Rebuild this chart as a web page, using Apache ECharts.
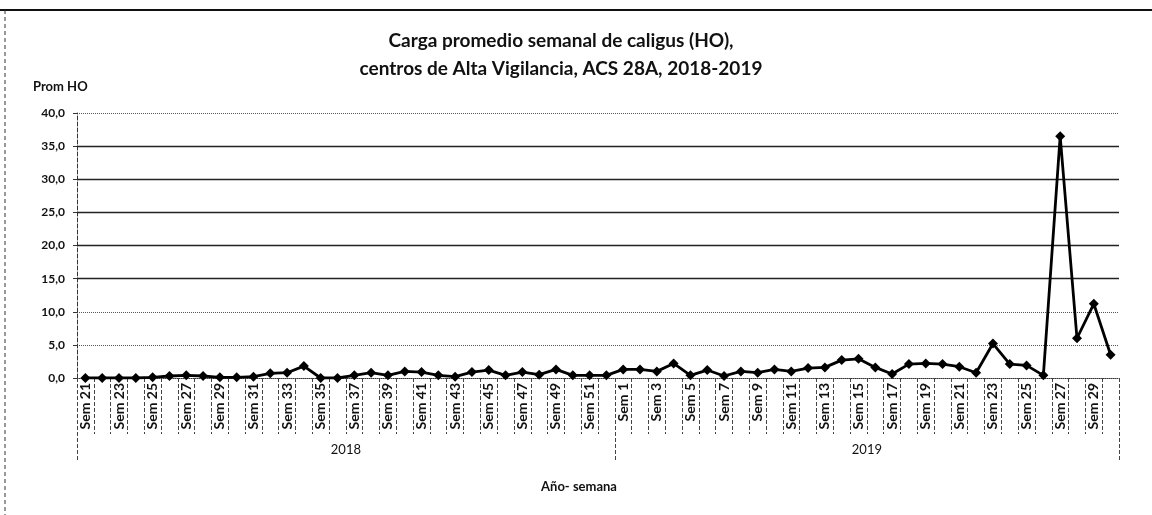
<!DOCTYPE html>
<html>
<head>
<meta charset="utf-8">
<script src="https://cdn.jsdelivr.net/npm/echarts@6/dist/echarts.min.js"></script>
<style>
  html, body { margin: 0; padding: 0; background: #fff; }
  #chart { width: 1152px; height: 515px; }
</style>
</head>
<body>
<div id="chart"></div>
<script>
  // semanas por año
  const weeks2018 = ['Sem 21','Sem 22','Sem 23','Sem 24','Sem 25','Sem 26','Sem 27','Sem 28','Sem 29','Sem 30',
    'Sem 31','Sem 32','Sem 33','Sem 34','Sem 35','Sem 36','Sem 37','Sem 38','Sem 39','Sem 40',
    'Sem 41','Sem 42','Sem 43','Sem 44','Sem 45','Sem 46','Sem 47','Sem 48','Sem 49','Sem 50',
    'Sem 51','Sem 52']
  const weeks2019 = ['Sem 1','Sem 2','Sem 3','Sem 4','Sem 5','Sem 6','Sem 7','Sem 8','Sem 9','Sem 10',
    'Sem 11','Sem 12','Sem 13','Sem 14','Sem 15','Sem 16','Sem 17','Sem 18','Sem 19','Sem 20',
    'Sem 21','Sem 22','Sem 23','Sem 24','Sem 25','Sem 26','Sem 27','Sem 28','Sem 29','Sem 30']
  const years = ['2018', '2019']

  // Prom HO
  const values2018 = [0, 0, 0, 0, 0.1, 0.3, 0.4, 0.3, 0.1, 0.1,
    0.2, 0.7, 0.8, 1.8, 0, 0, 0.4, 0.8, 0.4, 1.0,
    0.9, 0.4, 0.2, 0.9, 1.2, 0.4, 0.9, 0.5, 1.3, 0.4,
    0.4, 0.4]
  const values2019 = [1.3, 1.3, 1.0, 2.2, 0.4, 1.2, 0.3, 1.0, 0.8, 1.3,
    1.0, 1.5, 1.6, 2.7, 2.9, 1.6, 0.6, 2.1, 2.2, 2.1,
    1.7, 0.8, 5.2, 2.1, 1.9, 0.4, 36.5, 6.0, 11.2, 3.5]

  const yTicks = [0, 5, 10, 15, 20, 25, 30, 35, 40]

  const categories = weeks2018.concat(weeks2019)
  const values = values2018.concat(values2019)
  const n1 = weeks2018.length
  const total = categories.length

  const FONT = 'Lato'
  const fmt = v => v.toFixed(1).replace('.', ',')

  let myChart = echarts.init(document.getElementById('chart'))
  myChart.setOption({
    animation: false,
    textStyle: { fontFamily: FONT },
    title: {
      text: 'Carga promedio semanal de caligus (HO),\ncentros de Alta Vigilancia, ACS 28A, 2018-2019',
      left: 556,
      top: 22,
      textAlign: 'center',
      textStyle: { fontFamily: FONT, fontSize: 19, fontWeight: 'bold', color: '#111', lineHeight: 28 }
    },
    grid: { left: 77, right: 33, top: 113, bottom: 137 },
    xAxis: [{
      type: 'category',
      data: categories,
      boundaryGap: true,
      axisLine: { lineStyle: { color: '#333', type: 'dotted', width: 1 } },
      axisTick: { show: true, interval: 0, length: 56, lineStyle: { color: '#444', type: 'dashed' } },
      axisLabel: { interval: 1, rotate: 90, margin: 5, fontSize: 14, fontWeight: 'bold', color: '#111', fontFamily: FONT }
    }, {
      type: 'value',
      min: 0,
      max: total,
      position: 'bottom',
      name: 'Año- semana',
      nameLocation: 'middle',
      nameGap: 102,
      nameTextStyle: { fontSize: 13, fontWeight: 'bold', color: '#111', padding: [0, 38, 0, 0] },
      axisLine: { show: false },
      splitLine: { show: false },
      axisTick: { show: true, customValues: [0, n1, total], length: 84, lineStyle: { color: '#444', type: 'dashed' } },
      axisLabel: {
        customValues: [n1 / 2, n1 + (total - n1) / 2],
        margin: 65,
        fontSize: 13,
        color: '#111',
        formatter: v => (v < n1 ? years[0] : years[1])
      }
    }],
    yAxis: {
      type: 'value',
      min: 0,
      max: 40,
      interval: 5,
      name: 'Prom HO',
      nameLocation: 'end',
      nameGap: 20,
      nameTextStyle: { fontSize: 13, fontWeight: 'bold', color: '#111', align: 'left', padding: [0, 0, 0, -44] },
      axisLine: { show: true, lineStyle: { color: '#333', type: 'dashed' } },
      axisTick: { show: true, length: 4, lineStyle: { color: '#333' } },
      axisLabel: { formatter: fmt, fontSize: 12, fontWeight: 'bold', color: '#111', margin: 12 },
      splitLine: { show: true, lineStyle: { color: '#555', type: 'dotted', width: 1 } }
    },
    series: [{
      name: 'Prom HO',
      type: 'line',
      data: values,
      symbol: 'diamond',
      symbolSize: 10,
      itemStyle: { color: '#000' },
      lineStyle: { color: '#000', width: 2.8 },
      markLine: {
        silent: true,
        symbol: 'none',
        label: { show: false },
        lineStyle: { color: '#222', type: 'solid', width: 1.3 },
        data: yTicks.filter(v => v >= 15 && v <= 35).map(v => ({ yAxis: v }))
      },
      z: 5
    }],
    graphic: [
      { type: 'line', shape: { x1: 0, y1: 10, x2: 1152, y2: 10 }, style: { stroke: '#111', lineWidth: 2 } },
      { type: 'line', shape: { x1: 5, y1: 10, x2: 5, y2: 515 }, style: { stroke: '#333', lineWidth: 1, lineDash: [4, 3] } }
    ]
  })
</script>
</body>
</html>
